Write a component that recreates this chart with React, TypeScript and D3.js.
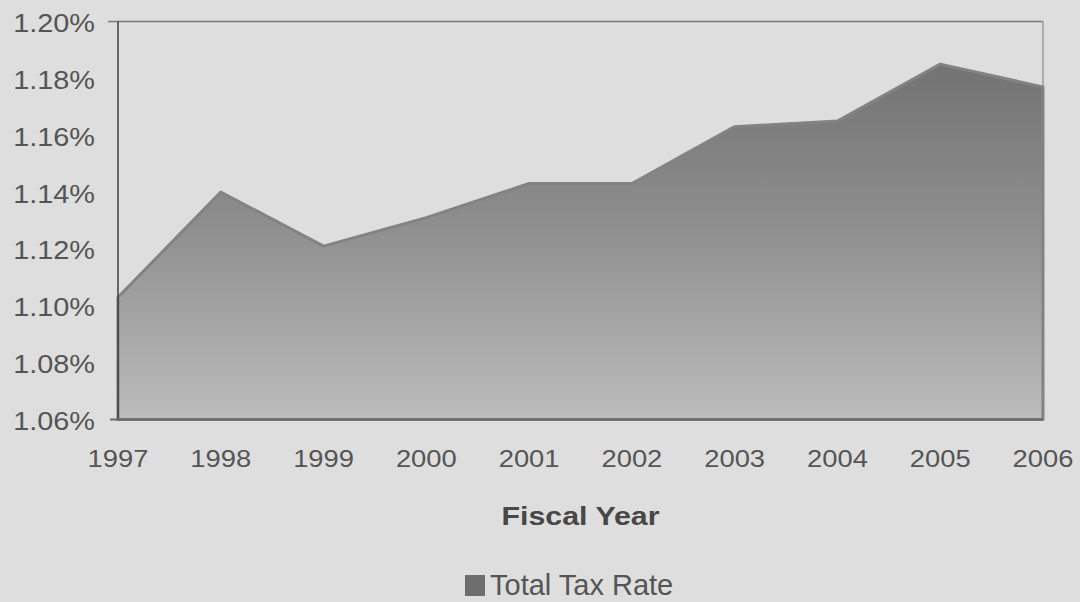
import React from "react";
import * as d3 from "d3";

// Fiscal years on the x axis
const years = ["1997", "1998", "1999", "2000", "2001", "2002", "2003", "2004", "2005", "2006"];
// Total tax rate per fiscal year, in percent
const totalTaxRate = [1.103, 1.140, 1.121, 1.131, 1.143, 1.143, 1.163, 1.165, 1.185, 1.177];
// Y axis tick values, in percent
const yTicks = [1.06, 1.08, 1.10, 1.12, 1.14, 1.16, 1.18, 1.20];

const seriesName = "Total Tax Rate";
const xTitle = "Fiscal Year";

const W = 1080;
const H = 602;
const plot = { left: 118, right: 1043, top: 21.5, bottom: 419.5 };
const FONT = "'Liberation Sans', Arial, Helvetica, sans-serif";

export default function App() {
  const x = d3.scalePoint<string>().domain(years).range([plot.left, plot.right]);
  const y = d3.scaleLinear().domain([1.06, 1.2]).range([plot.bottom, plot.top]);
  const fmt = (v: number) => d3.format(".2f")(v) + "%";

  const rows = years.map((yr, i) => ({ yr, v: totalTaxRate[i] }));
  const areaPath = d3
    .area<{ yr: string; v: number }>()
    .x((d) => x(d.yr) as number)
    .y0(y(1.06))
    .y1((d) => y(d.v))(rows) as string;

  return (
    <svg
      width={W}
      height={H}
      style={{ position: "absolute", left: 0, top: 0, display: "block" }}
      fontFamily={FONT}
    >
      <defs>
        <linearGradient id="areaFill" gradientUnits="userSpaceOnUse" x1="0" y1={y(1.185)} x2="0" y2={y(1.06)}>
          <stop offset="0" stopColor="#737373" />
          <stop offset="0.45" stopColor="#8e8e8e" />
          <stop offset="1" stopColor="#bcbcbc" />
        </linearGradient>
      </defs>
      <rect x={0} y={0} width={W} height={H} fill="#dedede" />

      {/* plot area border (top / right) */}
      <line x1={plot.left - 10} x2={plot.right} y1={plot.top} y2={plot.top} stroke="#7a7a7a" strokeWidth={1.5} />
      <line x1={plot.right} x2={plot.right} y1={plot.top} y2={plot.bottom} stroke="#9a9a9a" strokeWidth={1.5} />

      {/* series area */}
      <path d={areaPath} fill="url(#areaFill)" stroke="#838383" strokeWidth={3} strokeLinejoin="round" />

      {/* axes */}
      <line x1={plot.left} x2={plot.left} y1={plot.top} y2={plot.bottom} stroke="#3c3c3c" strokeWidth={1.5} />
      <line x1={plot.left - 8} x2={plot.right} y1={plot.bottom} y2={plot.bottom} stroke="#6a6a6a" strokeWidth={2} />

      {/* y tick labels */}
      {yTicks.map((t) => (
        <text
          key={t}
          transform={`translate(95,${y(t) + 10.5}) scale(1.11,1)`}
          textAnchor="end"
          fontSize={26}
          fill="#555"
        >
          {fmt(t)}
        </text>
      ))}

      {/* x tick labels */}
      {years.map((yr) => (
        <text
          key={yr}
          transform={`translate(${x(yr)},467) scale(1.14,1)`}
          textAnchor="middle"
          fontSize={24}
          fill="#555"
        >
          {yr}
        </text>
      ))}

      {/* x axis title */}
      <text
        transform={`translate(${(plot.left + plot.right) / 2},525) scale(1.19,1)`}
        textAnchor="middle"
        fontSize={25.5}
        fontWeight="bold"
        fill="#474747"
      >
        {xTitle}
      </text>

      {/* legend */}
      <rect x={465} y={575} width={20} height={21} fill="#6e6e6e" />
      <text x={490} y={595} fontSize={29} fill="#555">
        {seriesName}
      </text>
    </svg>
  );
}
